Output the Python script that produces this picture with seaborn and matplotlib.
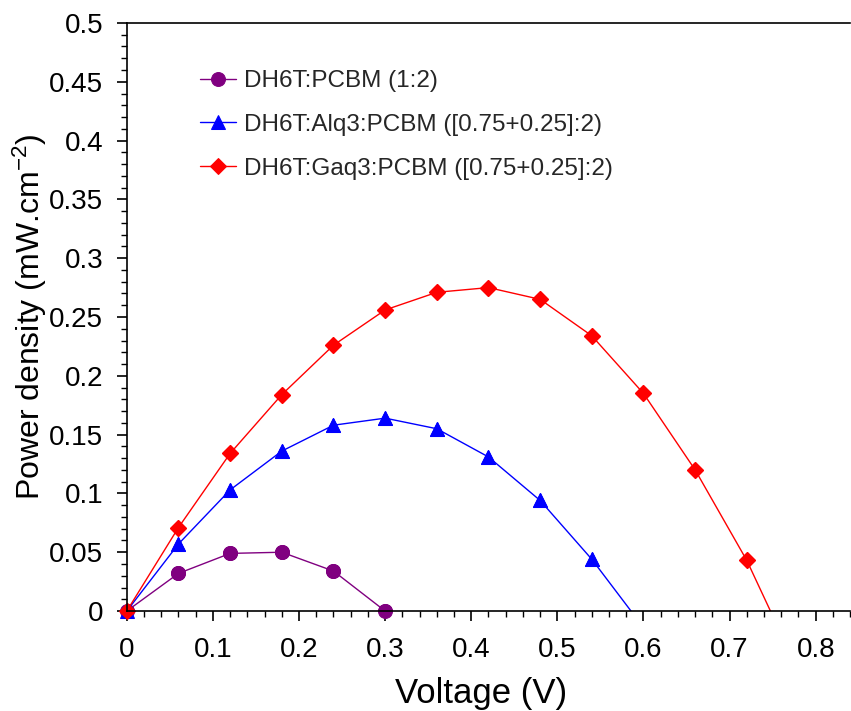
import numpy as np
import pandas as pd
import matplotlib
matplotlib.use("Agg")
import matplotlib.pyplot as plt
import seaborn as sns
from matplotlib.ticker import MultipleLocator, FuncFormatter

# ---- data ----
v_pcbm = [0.0, 0.06, 0.12, 0.18, 0.24, 0.30]
p_pcbm = [0.0, 0.032, 0.049, 0.050, 0.034, 0.0]

v_alq = [0.0, 0.06, 0.12, 0.18, 0.24, 0.30, 0.36, 0.42, 0.48, 0.54, 0.60]
p_alq = [0.0, 0.057, 0.103, 0.136, 0.158, 0.164, 0.155, 0.131, 0.094, 0.044, -0.014]

v_gaq = [0.0, 0.06, 0.12, 0.18, 0.24, 0.30, 0.36, 0.42, 0.48, 0.54, 0.60, 0.66, 0.72, 0.78]
p_gaq = [0.0, 0.071, 0.134, 0.184, 0.226, 0.256, 0.271, 0.275, 0.265, 0.234, 0.185, 0.120, 0.043, -0.051]

labels = ["DH6T:PCBM (1:2)",
          "DH6T:Alq3:PCBM ([0.75+0.25]:2)",
          "DH6T:Gaq3:PCBM ([0.75+0.25]:2)"]
x_ticks = [0, 0.1, 0.2, 0.3, 0.4, 0.5, 0.6, 0.7, 0.8]
y_ticks = [0, 0.05, 0.1, 0.15, 0.2, 0.25, 0.3, 0.35, 0.4, 0.45, 0.5]

sns.set_theme(style="ticks")
plt.rcParams['font.family'] = ['Liberation Sans', 'DejaVu Sans']
plt.rcParams['mathtext.fontset'] = 'custom'
plt.rcParams['mathtext.rm'] = 'Liberation Sans'
plt.rcParams['mathtext.it'] = 'Liberation Sans:italic'
plt.rcParams['mathtext.bf'] = 'Liberation Sans:bold'

fig = plt.figure(figsize=(8.51, 7.11), dpi=100)
ax = fig.add_axes([0.149, 0.1406, 0.850, 0.8271])

series = [
    (v_pcbm, p_pcbm, "#800080", "o", 10),
    (v_alq, p_alq, "#0000FF", "^", 10),
    (v_gaq, p_gaq, "#FF0000", "D", 8),
]

for (vx, py, col, mk, ms), lab in zip(series, labels):
    df = pd.DataFrame({"V": vx, "P": py})
    sns.lineplot(data=df, x="V", y="P", color=col, linewidth=1.0,
                 marker=mk, markersize=ms, markeredgecolor=col,
                 markevery=[i for i, p in enumerate(py) if p >= 0],
                 label=lab, ax=ax, sort=False, estimator=None)
    dpos = df[df["P"] >= 0]
    sns.lineplot(data=dpos, x="V", y="P", color=col, linestyle="",
                 marker=mk, markersize=ms, markeredgecolor=col,
                 ax=ax, sort=False, estimator=None, clip_on=False, legend=False)

ax.set_xlim(0, 0.84)
ax.set_ylim(0, 0.5)
ax.set_xticks(x_ticks)
ax.set_yticks(y_ticks)
ax.xaxis.set_minor_locator(MultipleLocator(0.02))
ax.yaxis.set_minor_locator(MultipleLocator(0.01))
fmt = FuncFormatter(lambda v, p: ("%g" % round(v, 3)))
ax.xaxis.set_major_formatter(fmt)
ax.yaxis.set_major_formatter(fmt)
ax.tick_params(which="major", direction="out", length=7, width=1.2,
               labelsize=20, color="black", labelcolor="black", pad=10)
ax.tick_params(which="minor", direction="out", length=4, width=1.0, color="black")
ax.tick_params(axis="x", pad=12)

for s in ["left", "bottom", "top"]:
    ax.spines[s].set_color("black")
    ax.spines[s].set_linewidth(1.2)
ax.spines["right"].set_visible(False)

ax.set_xlabel("Voltage (V)", fontsize=25, color="black")
ax.set_ylabel(r"Power density (mW.cm$^{\mathrm{-2}}$)", fontsize=23, color="black")
ax.yaxis.set_label_coords(-0.108, 0.5)
ax.xaxis.set_label_coords(0.49, -0.112)

leg = ax.legend(loc="upper left", bbox_to_anchor=(200 / 851, 1 - 70 / 711),
                bbox_transform=fig.transFigure, frameon=False, fontsize=17.5,
                handlelength=1.5, handletextpad=0.3, labelspacing=0.9,
                borderpad=0, borderaxespad=0)

fig.savefig("out.png", dpi=100)
